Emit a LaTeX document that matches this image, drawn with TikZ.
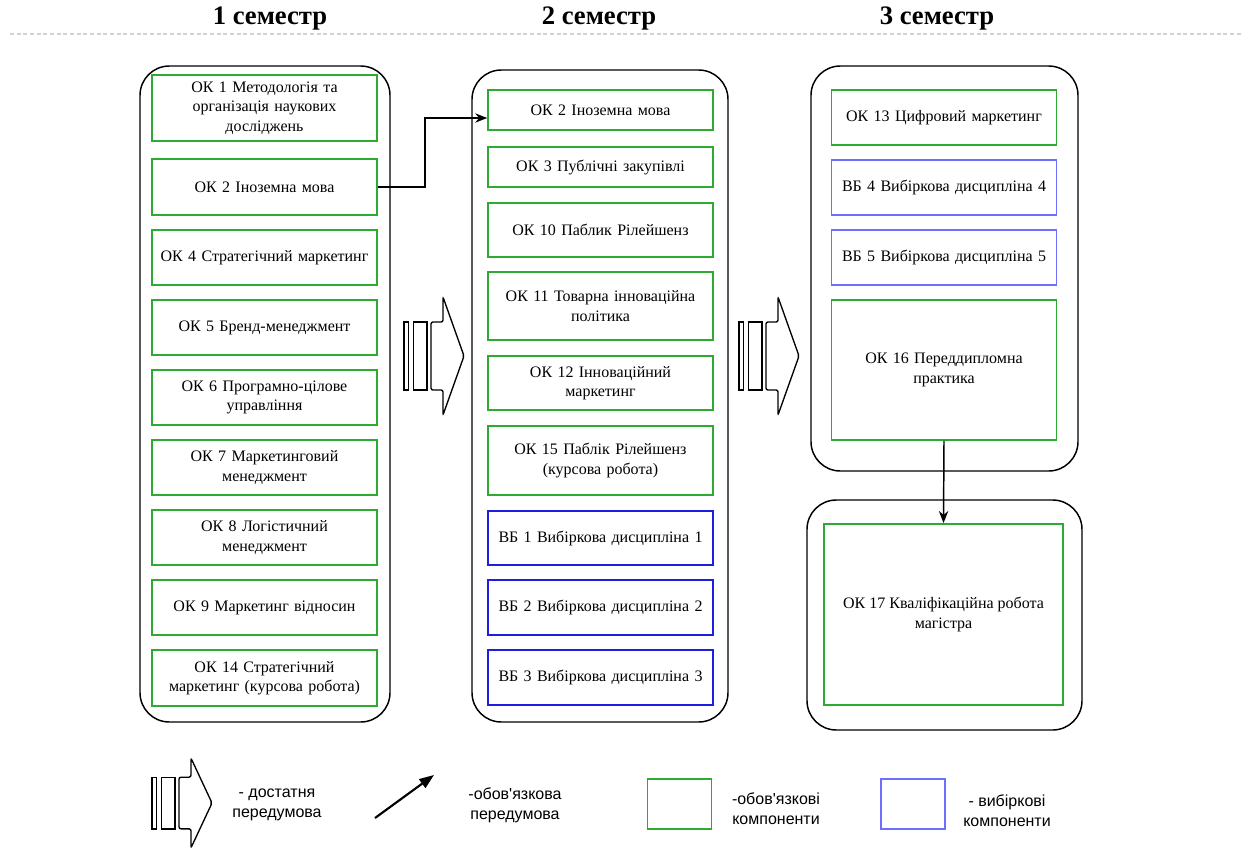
\documentclass[tikz,border=0pt]{standalone}
\usepackage{fontspec}
\setmainfont{Liberation Serif}
\newfontfamily\legendfont{Liberation Sans}
\usepackage{tikz}
\usetikzlibrary{positioning, arrows.meta}

\definecolor{okgreen}{RGB}{46,170,46}
\definecolor{vbblue}{RGB}{30,30,225}
\definecolor{vblight}{RGB}{110,110,255}

\begin{document}
\begin{tikzpicture}[
          x=0.75pt, y=-0.75pt,
          ht/.style={minimum height=#1*0.75pt},
          wd/.style={minimum width=#1*0.75pt, text width=#1*0.75pt-8pt},
          comp/.style={draw, line width=1.2pt, align=center, inner sep=2pt,
                       font=\fontsize{12}{14.5}\selectfont, wd=225},
          ok/.style={comp, draw=okgreen},
          vb/.style={comp, draw=vbblue},
          vbl/.style={comp, draw=vblight},
          semester/.style={draw, line width=1.1pt, rounded corners=22pt},
          head/.style={font=\fontsize{20}{24}\selectfont\bfseries},
          legend/.style={font=\legendfont\fontsize{12}{15}\selectfont, align=center},
          req/.style={-{Stealth[length=9pt, width=7pt]}, line width=1.1pt}
        ]
        \useasboundingbox (0,0) rectangle (1242,847);
        % headings
        \node[head] (h1) at (270,19) {1 семестр};
        \node[head] (h2) at (599,19) {2 семестр};
        \node[head] (h3) at (937,19) {3 семестр};
        \draw[gray!35, line width=1.5pt, dash pattern=on 3pt off 2pt] (10,34) -- (1242,34);
        % semester frames
        \draw[semester] (140,66) rectangle (390,722);
        \draw[semester] (472,70) rectangle (728,722);
        \draw[semester] (811,66) rectangle (1078,471);
        \draw[semester] (807,500) rectangle (1082,730);
        % 1 semester
        \node[ok, ht=66] (ok1) at (264.5,108) {ОК 1 Методологія та\\організація наукових\\досліджень};
        \node[ok, ht=56] (ok2a) at (264.5,187) {ОК 2 Іноземна мова};
        \node[ok, ht=55] (ok4) at (264.5,257.5) {ОК 4 Стратегічний маркетинг};
        \node[ok, ht=55] (ok5) at (264.5,327.5) {ОК 5 Бренд-менеджмент};
        \node[ok, ht=55] (ok6) at (264.5,397.5) {ОК 6 Програмно-цілове\\управління};
        \node[ok, ht=55] (ok7) at (264.5,467.5) {ОК 7 Маркетинговий\\менеджмент};
        \node[ok, ht=55] (ok8) at (264.5,537.5) {ОК 8 Логістичний\\менеджмент};
        \node[ok, ht=55] (ok9) at (264.5,607.5) {ОК 9 Маркетинг відносин};
        \node[ok, ht=56] (ok14) at (264.5,678) {ОК 14 Стратегічний\\маркетинг (курсова робота)};
        % 2 semester
        \node[ok, ht=40] (ok2b) at (600.5,110) {ОК 2 Іноземна мова};
        \node[ok, ht=40] (ok3) at (600.5,167) {ОК 3 Публічні закупівлі};
        \node[ok, ht=54] (ok10) at (600.5,230) {ОК 10 Паблик Рілейшенз};
        \node[ok, ht=68] (ok11) at (600.5,306) {ОК 11 Товарна інноваційна\\політика};
        \node[ok, ht=54] (ok12) at (600.5,383) {ОК 12 Інноваційний\\маркетинг};
        \node[ok, ht=69] (ok15) at (600.5,460.5) {ОК 15 Паблік Рілейшенз\\(курсова робота)};
        \node[vb, ht=54] (vb1) at (600.5,538) {ВБ 1 Вибіркова дисципліна 1};
        \node[vb, ht=55] (vb2) at (600.5,607.5) {ВБ 2 Вибіркова дисципліна 2};
        \node[vb, ht=55] (vb3) at (600.5,677.5) {ВБ 3 Вибіркова дисципліна 3};
        % 3 semester
        \node[ok, ht=55] (ok13) at (944,117.5) {ОК 13 Цифровий маркетинг};
        \node[vbl, ht=55] (vb4) at (944,187.5) {ВБ 4 Вибіркова дисципліна 4};
        \node[vbl, ht=55] (vb5) at (944,257.5) {ВБ 5 Вибіркова дисципліна 5};
        \node[ok, ht=140] (ok16) at (944,370) {ОК 16 Переддипломна\\практика};
        \node[draw=okgreen, line width=1.2pt, align=center, font=\fontsize{12}{14.5}\selectfont,
              minimum width=179pt, minimum height=136pt] (ok17) at (943.5,614.5) {ОК 17 Кваліфікаційна робота\\магістра};
        % required prerequisites
        \draw[req] (ok2a.east) -- ++(47,0) |- ([yshift=-6pt]ok2b.west);
        \draw[req] (ok16.south) -- (ok17.north);
        % sufficient prerequisites
        \foreach \bx/\by/\ys in {404/356/1, 739/356/1, 152/803/0.76}{
          \begin{scope}[shift={(\bx,\by)}, yscale=\ys, line width=1pt]
            \draw (0,-34) rectangle (4.5,34);
            \draw (9.5,-34) rectangle (23,34);
            \draw[rounded corners=1.5pt] (39,-34) -- (39,-59) -- (60,0) -- (39,59)
              -- (39,34) -- (27,34) -- (27,-34) -- cycle;
          \end{scope}
        }
        % legend
        \node[legend] (lg1) at (277,805) {- достатня\\передумова};
        \coordinate (lgA) at (375,818);
        \coordinate (lgB) at (434,775);
        \draw[-{Triangle[length=11pt, width=8pt]}, line width=1.6pt] (lgA) -- (lgB);
        \node[legend] (lg2) at (515,805) {-обов'язкова\\передумова};
        \node[draw=okgreen, line width=1.2pt, minimum width=48pt, minimum height=37.5pt] (lg3) at (679.5,804) {};
        \node[legend] (lg4) at (776,809) {-обов'язкові\\компоненти};
        \node[draw=vblight, line width=1.2pt, minimum width=48pt, minimum height=37.5pt] (lg5) at (913,804) {};
        \node[legend] (lg6) at (1007,811) {- вибіркові\\компоненти};
      \end{tikzpicture}
\end{document}
